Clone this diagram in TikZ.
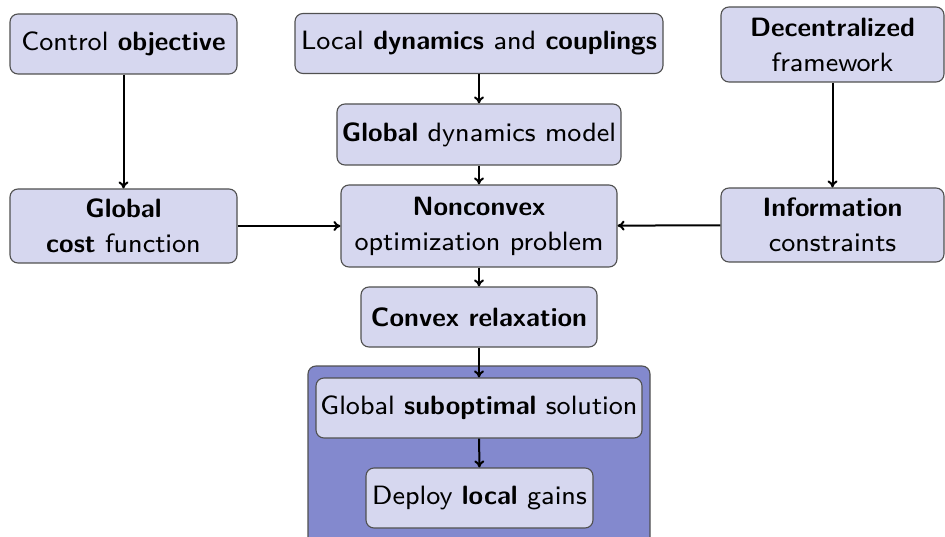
\documentclass[tikz,border=0pt]{standalone}
\usetikzlibrary{arrows.meta}
\providecommand\UnicodeFontFile[2]{"[#1]:#2"}
\providecommand\UnicodeFontTeXLigatures{mapping=tex-text;}
\DeclareFontFamily{TU}{lmsstd}{}
\DeclareFontShape{TU}{lmsstd}{m}{n}{<-> \UnicodeFontFile{lmsans8-regular}{\UnicodeFontTeXLigatures}}{}
\DeclareFontShape{TU}{lmsstd}{bx}{n}{<-> \UnicodeFontFile{lmsans10-bold}{\UnicodeFontTeXLigatures}}{}
\DeclareFontShape{TU}{lmsstd}{b}{n}{<-> ssub * lmsstd/bx/n}{}
\definecolor{boxfill}{RGB}{214,215,239}
\definecolor{groupfill}{RGB}{131,137,206}
\definecolor{edgegray}{RGB}{80,80,80}
\newcommand{\boxfont}{\fontfamily{lmsstd}\fontsize{26.5}{35}\selectfont}
\tikzset{
  blockbox/.style={draw=edgegray, fill=boxfill, rounded corners=8pt, line width=1.1pt,
    align=center, inner sep=0pt, font=\boxfont},
  flow/.style={-{To[length=7pt,width=10pt]}, line width=2pt, black}
}
\begin{document}
\begin{tikzpicture}[x=1pt,y=-1pt]
\useasboundingbox (0,0) rectangle (945,537);
\begin{scope}
\clip (0,0) rectangle (945,537);
\filldraw[draw=edgegray, fill=groupfill, line width=1.1pt, rounded corners=8pt] (308,366) rectangle (650,560);
\end{scope}
\node[blockbox, minimum width=227pt, minimum height=60pt] (obj) at (123.5,44) {Control \textbf{objective}};
\node[blockbox, minimum width=368pt, minimum height=60pt] (loc) at (479,43.5) {Local \textbf{dynamics} and \textbf{couplings}};
\node[blockbox, minimum width=223pt, minimum height=75pt] (dec) at (832.5,44.5) {\textbf{Decentralized}\\framework};
\node[blockbox, minimum width=284pt, minimum height=61pt] (gdm) at (479,134.5) {\textbf{Global} dynamics model};
\node[blockbox, minimum width=227pt, minimum height=74pt] (cost) at (123.5,226) {\textbf{Global}\\\textbf{cost} function};
\node[blockbox, minimum width=276pt, minimum height=82pt] (ncv) at (479,226) {\textbf{Nonconvex}\\optimization problem};
\node[blockbox, minimum width=223pt, minimum height=74pt] (info) at (832.5,225) {\textbf{Information}\\constraints};
\node[blockbox, minimum width=236pt, minimum height=60pt] (cvx) at (479,317) {\textbf{Convex relaxation}};
\node[blockbox, minimum width=326pt, minimum height=60pt] (sub) at (479,408) {Global \textbf{suboptimal} solution};
\node[blockbox, minimum width=227pt, minimum height=60pt] (dep) at (479.5,498) {Deploy \textbf{local} gains};
\draw[flow] (obj) -- (cost);
\draw[flow] (cost) -- (ncv);
\draw[flow] (info) -- (ncv);
\draw[flow] (dec) -- (info);
\draw[flow] (loc) -- (gdm);
\draw[flow] (gdm) -- (ncv);
\draw[flow] (ncv) -- (cvx);
\draw[flow] (cvx) -- (sub);
\draw[flow] (sub) -- (dep);
\end{tikzpicture}
\end{document}
